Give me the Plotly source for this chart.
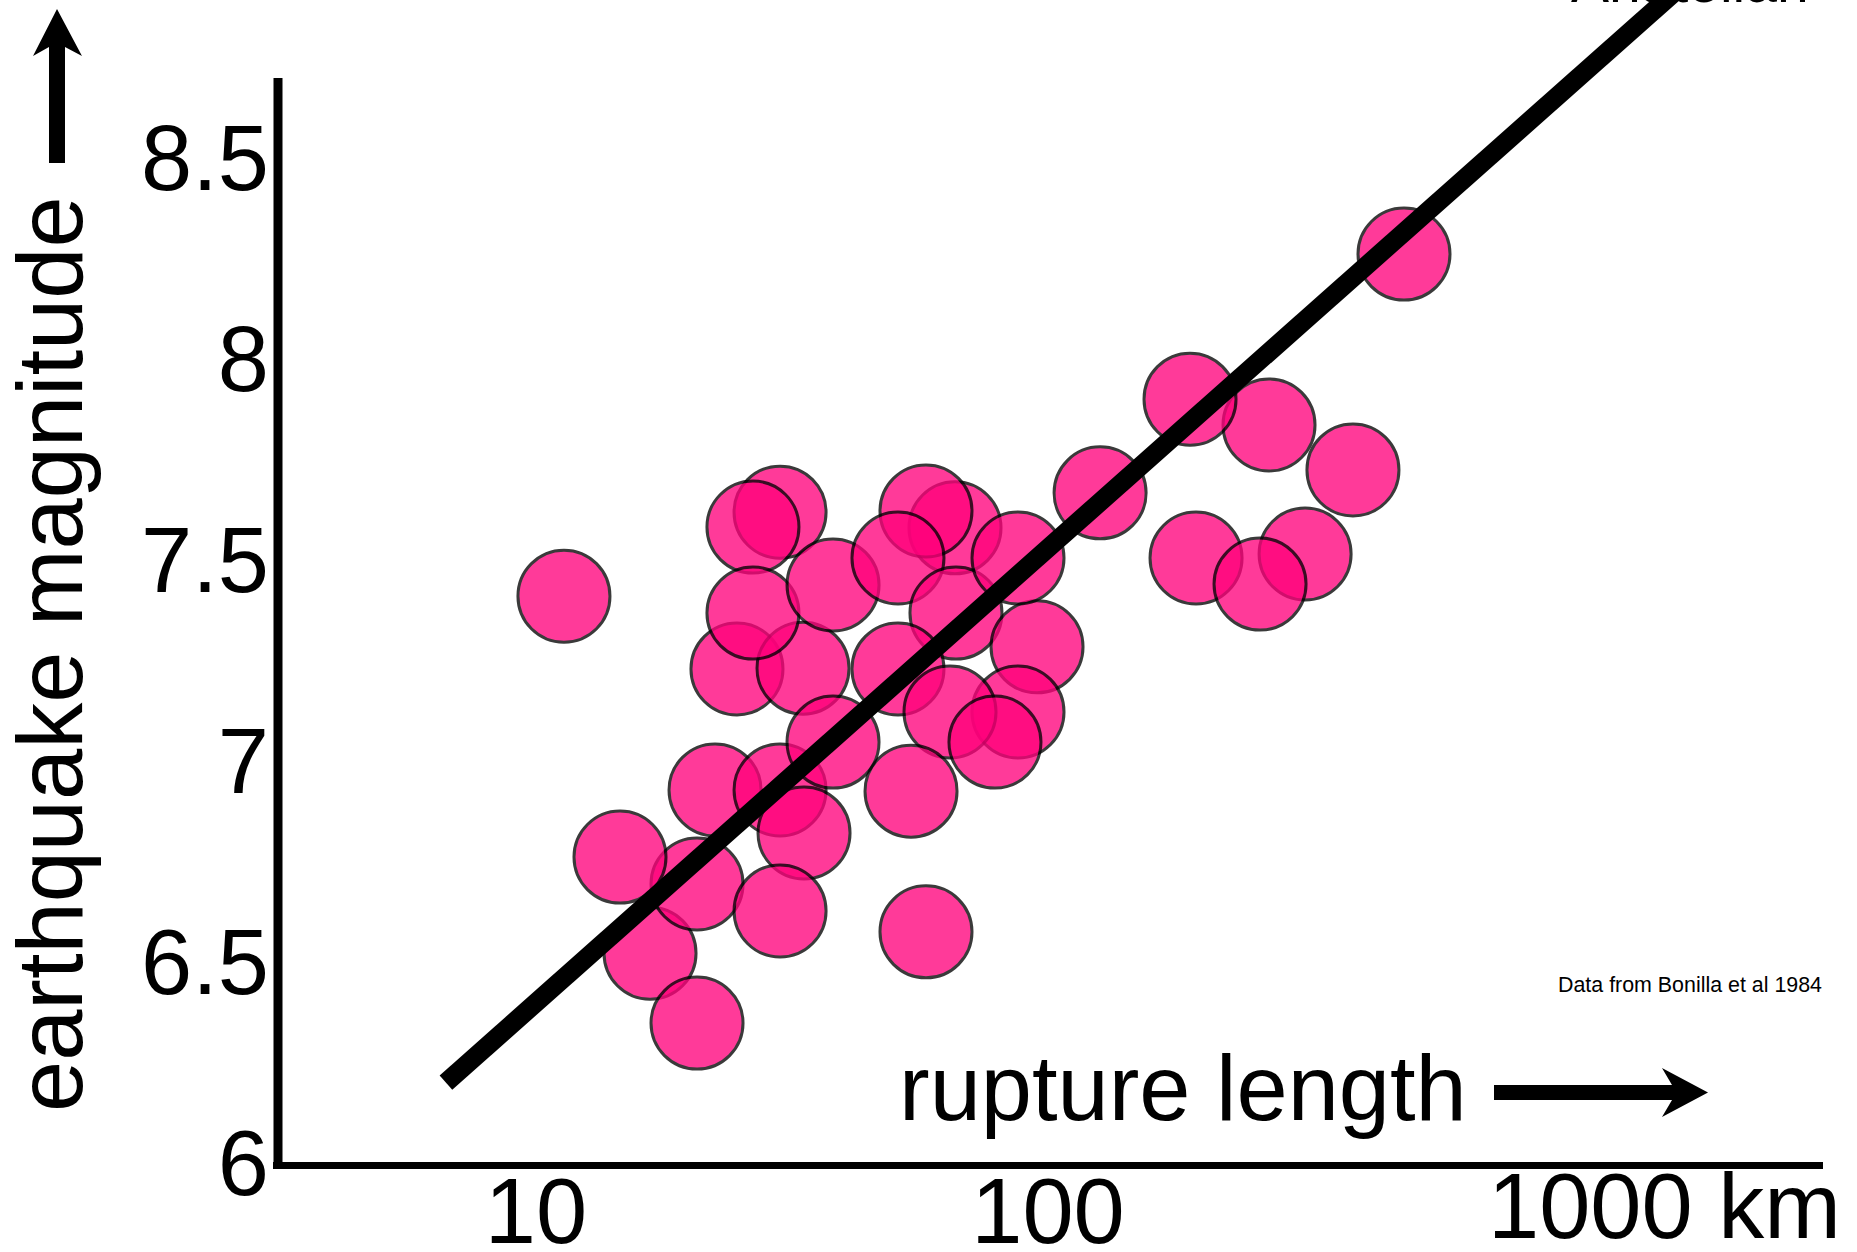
import plotly.graph_objects as go

# ---- data ----
rupture_km = [29.97, 26.53, 24.69, 33.23, 26.53, 38.03, 65.82, 57.77, 50.93, 66.11,
              95.18, 87.38, 50.93, 87.38, 64.36, 78.78, 22.37, 29.97, 33.38, 38.03,
              16.70, 20.63, 14.59, 29.97, 20.63, 57.77, 54.01, 126.4, 270.2, 189.4,
              394.1, 194.6, 317.8, 259.5, 495.8, 11.34]
magnitude = [7.619, 7.582, 7.229, 7.231, 7.368, 7.438, 7.580, 7.622, 7.505, 7.368,
             7.284, 7.505, 7.229, 7.122, 7.122, 7.047, 6.928, 6.928, 6.821, 7.047,
             6.522, 6.694, 6.761, 6.627, 6.348, 6.575, 6.925, 7.667, 7.836, 7.900,
             7.724, 7.505, 7.515, 7.440, 8.261, 7.410]

fit_km = [6.67, 2000]
fit_mag = [6.20, 9.00]

y_tickvals = [6, 6.5, 7, 7.5, 8, 8.5]
y_ticktext = ["6", "6.5", "7", "7.5", "8", "8.5"]
x_tickvals = [10, 100]
x_ticktext = ["10", "100"]

FONT = "Liberation Sans, Arial, sans-serif"
W, H = 1857, 1252
ML, MR, MT, MB = 278, 0, 0, 86
PW, PH = W - ML - MR, H - MT - MB


def px(x):
    return (x - ML) / PW


def py(y):
    return (PH - y) / PH


def poly(points):
    return "M " + " L ".join(f"{px(a):.5f},{py(b):.5f}" for a, b in points) + " Z"


fig = go.Figure()
fig.add_trace(go.Scatter(
    x=rupture_km, y=magnitude, mode="markers",
    marker=dict(size=92, color="rgb(255,0,123)", opacity=0.77,
                line=dict(color="black", width=3)),
    hoverinfo="skip"))
fig.add_trace(go.Scatter(
    x=fit_km, y=fit_mag, mode="lines",
    line=dict(color="black", width=19), hoverinfo="skip"))

shapes = [
    # left axis line
    dict(type="line", xref="paper", yref="paper", x0=0, x1=0,
         y0=py(1169), y1=py(78), line=dict(color="black", width=9)),
    # bottom axis line
    dict(type="line", xref="paper", yref="paper", x0=px(273), x1=px(1823),
         y0=py(1165.5), y1=py(1165.5), line=dict(color="black", width=7)),
    # up arrow
    dict(type="path", xref="paper", yref="paper", fillcolor="black",
         line=dict(width=0),
         path=poly([(49, 163), (49, 47), (33, 56), (57, 9), (82, 56), (65, 47), (65, 163)])),
    # right arrow
    dict(type="path", xref="paper", yref="paper", fillcolor="black",
         line=dict(width=0),
         path=poly([(1494, 1085), (1672, 1085), (1662, 1068), (1708, 1092.5),
                    (1662, 1117), (1672, 1100), (1494, 1100)])),
]

annotations = [
    dict(text="earthquake magnitude", xref="paper", yref="paper",
         x=px(50), y=py(654), textangle=-90, showarrow=False,
         xanchor="center", yanchor="middle",
         font=dict(family=FONT, size=92, color="black")),
    dict(text="rupture length", xref="paper", yref="paper",
         x=px(1182.5), y=py(1088), showarrow=False,
         xanchor="center", yanchor="middle",
         font=dict(family=FONT, size=92, color="black")),
    dict(text="1000 km", xref="paper", yref="paper",
         x=px(1664), y=py(1206), showarrow=False,
         xanchor="center", yanchor="middle",
         font=dict(family=FONT, size=92, color="black")),
    dict(text="Data from Bonilla et al 1984", xref="paper", yref="paper",
         x=px(1690), y=py(984.5), showarrow=False,
         xanchor="center", yanchor="middle",
         font=dict(family=FONT, size=21.4, color="black")),
    dict(text="Anatolian", xref="paper", yref="paper",
         x=px(1690), y=py(-18), showarrow=False,
         xanchor="center", yanchor="middle",
         font=dict(family=FONT, size=57, color="black")),
]

fig.update_layout(
    width=W, height=H,
    margin=dict(l=ML, r=MR, t=MT, b=MB, pad=0, autoexpand=False),
    paper_bgcolor="white", plot_bgcolor="white",
    showlegend=False,
    font=dict(family=FONT, color="black"),
    xaxis=dict(type="log", range=[0.49609, 3.58008], automargin=False,
               tickvals=x_tickvals, ticktext=x_ticktext,
               showgrid=False, zeroline=False, showline=False, ticks="",
               tickfont=dict(family=FONT, size=92, color="black"),
               ticklabelstandoff=-16, fixedrange=True),
    yaxis=dict(range=[5.99254, 8.89303], automargin=False,
               tickvals=y_tickvals, ticktext=y_ticktext,
               showgrid=False, zeroline=False, showline=False, ticks="",
               tickfont=dict(family=FONT, size=92, color="black"),
               ticklabelstandoff=8, fixedrange=True),
    shapes=shapes,
    annotations=annotations,
)

fig.write_html("out.html", config={"displayModeBar": False})
